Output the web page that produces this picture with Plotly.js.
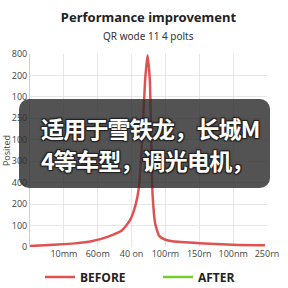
<!DOCTYPE html>
<html>
<head>
<meta charset="utf-8">
<script src="https://cdn.plot.ly/plotly-3.0.1.min.js"></script>
<style>
html,body{margin:0;padding:0;background:#fff;}
#wrap{position:relative;width:288px;height:288px;overflow:hidden;}
#chart{width:288px;height:288px;}
#box{position:absolute;left:19px;top:99px;width:251px;height:89px;border-radius:10px;background:rgba(45,45,45,0.82);}
.msg{position:absolute;left:41px;font-family:"Noto Sans CJK SC",sans-serif;font-weight:700;font-size:23px;line-height:30px;color:#fff;white-space:nowrap;letter-spacing:-0.8px;
text-shadow:-1px -1px 0 #222,1px -1px 0 #222,-1px 1px 0 #222,1px 1px 0 #222,0 0 3px #000;}
#m1{top:113px;}
#m2{top:145px;}
</style>
</head>
<body>
<div id="wrap">
<div id="chart"></div>
<div id="box"></div>
<div class="msg" id="m1">适用于雪铁龙，长城M</div>
<div class="msg" id="m2">4等车型，调光电机，</div>
</div>
<script>
const xTickLabels = ['10mm','60om','40 on','100rm','150rn','100nm','250rn'];
const xTickPos = [1,2,3,4,5,6,7];
const yTickLabels = ['0','100','200','400','300','100','250','100','200','800'];
const beforeX = [0,0.82,1.32,1.82,2.29,2.71,2.95,3.12,3.22,3.31,3.40,3.47,3.54,3.58,3.62,3.70,3.82,4.0,4.21,5.0,5.97,6.94];
const beforeY = [4,10,15,24,42,68,110,175,250,440,690,795,690,440,220,95,45,30,24,16,9,7];
const afterX = [0];
const afterY = [null];
const yTickPos = yTickLabels.map((t,i)=>i*800/9);

const traces = [
  {x:beforeX,y:beforeY,type:'scatter',mode:'lines',name:'BEFORE',legend:'legend',
   line:{color:'#e05252',width:2.5,shape:'spline',smoothing:0.5}},
  {x:afterX,y:afterY,type:'scatter',mode:'lines',name:'AFTER',legend:'legend2',
   line:{color:'#77cc2e',width:2.5}}
];
const legFont = {size:12,color:'#222',weight:700};
const layout = {
  width:288,height:288,
  margin:{l:30,r:21,t:54,b:41,autoexpand:false},
  paper_bgcolor:'#fff',plot_bgcolor:'#fff',
  font:{family:'"Open Sans", sans-serif',color:'#444'},
  title:{text:'<b>Performance improvement</b>',font:{family:'"Noto Sans", sans-serif',size:13,color:'#222'},
    x:0.5,xanchor:'center',xref:'paper',yref:'container',y:1-17/288,yanchor:'middle'},
  annotations:[{text:'QR wode 11 4 polts',xref:'paper',yref:'paper',x:0.5,y:(247-36)/193,
    xanchor:'center',yanchor:'middle',showarrow:false,font:{family:'"Noto Sans", sans-serif',size:10,color:'#333'}}],
  xaxis:{range:[0,7],tickvals:xTickPos,ticktext:xTickLabels,showgrid:true,gridcolor:'#e6e6e6',
    zeroline:false,showline:false,ticks:'',tickfont:{size:9,color:'#444'}},
  yaxis:{range:[0,800],tickvals:yTickPos,ticktext:yTickLabels,showgrid:true,gridcolor:'#e6e6e6',
    zeroline:false,showline:true,linecolor:'#d0d0d0',ticks:'',tickfont:{size:9,color:'#444'},
    title:{text:'Posited',font:{size:9,color:'#444'},standoff:2}},
  showlegend:true,
  legend:{orientation:'h',x:40/288,xanchor:'left',xref:'container',yref:'container',y:1-277/288,yanchor:'middle',
    font:legFont,itemwidth:30,bgcolor:'rgba(0,0,0,0)'},
  legend2:{orientation:'h',x:158/288,xanchor:'left',xref:'container',yref:'container',y:1-277/288,yanchor:'middle',
    font:legFont,itemwidth:30,bgcolor:'rgba(0,0,0,0)'}
};
Plotly.newPlot('chart',traces,layout,{staticPlot:true,displayModeBar:false});
</script>
</body>
</html>
